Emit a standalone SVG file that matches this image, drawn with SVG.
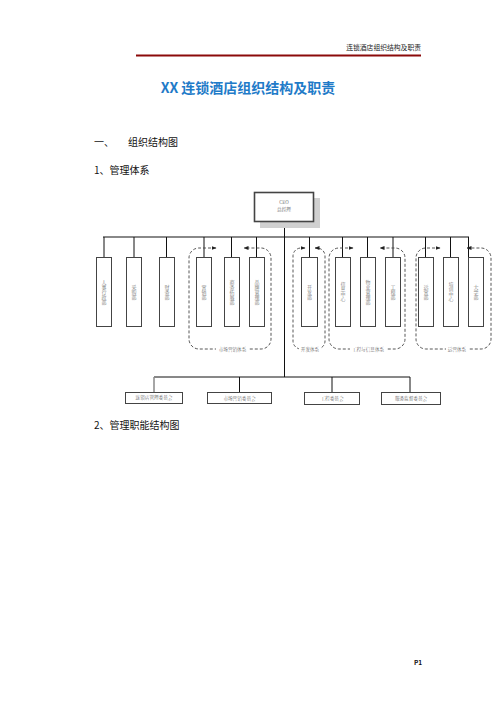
<svg xmlns="http://www.w3.org/2000/svg" width="496" height="702" viewBox="0 0 496 702">
<defs>
<marker id="ah" viewBox="0 0 10 10" refX="9" refY="5" markerWidth="5" markerHeight="5" orient="auto-start-reverse" markerUnits="userSpaceOnUse">
<path d="M0,1 L10,5 L0,9 z" fill="#222"/>
</marker>
<style>
text{font-family:"Noto Sans CJK SC","Liberation Sans",sans-serif}
.hd{font-size:10px;fill:#111}
.box{fill:#fff;stroke:#444;stroke-width:1}
.vt{font-size:5px;fill:#777;writing-mode:vertical-rl;text-orientation:upright;text-anchor:middle;font-family:"Noto Serif CJK SC","Noto Sans CJK SC",serif}
.sm{font-size:4.6px;fill:#666;text-anchor:middle;font-family:"Noto Serif CJK SC","Noto Sans CJK SC",serif}
.ln{stroke:#111;stroke-width:1;fill:none}
.grp{fill:none;stroke:#444;stroke-width:0.9;stroke-dasharray:3,2}
</style>
</defs>
<rect width="496" height="702" fill="#fff"/>
<g id="header">
<text x="421" y="50" font-size="6.8" fill="#222" text-anchor="end">连锁酒店组织结构及职责</text>
<line x1="136" y1="55.5" x2="421" y2="55.5" stroke="#8b0a0a" stroke-width="2.2"/>
</g>
<text x="248" y="93" font-size="14" font-weight="bold" fill="#1f7bc8" text-anchor="middle">XX 连锁酒店组织结构及职责</text>
<text class="hd" x="94" y="145.5">一、</text>
<text class="hd" x="128" y="145.5">组织结构图</text>
<text class="hd" x="94" y="173.5">1、管理体系</text>
<text class="hd" x="94" y="428.5">2、管理职能结构图</text>
<g id="connectors">
<line x1="103" y1="237" x2="469" y2="237" stroke="#888" stroke-width="2"/>
<line class="ln" x1="284.5" y1="222" x2="284.5" y2="377"/>
<line class="ln" x1="104" y1="237" x2="104" y2="257"/>
<line class="ln" x1="134" y1="237" x2="134" y2="257"/>
<line class="ln" x1="166.5" y1="237" x2="166.5" y2="257"/>
<line class="ln" x1="204" y1="237" x2="204" y2="257"/>
<line class="ln" x1="231.5" y1="237" x2="231.5" y2="257"/>
<line class="ln" x1="256.5" y1="237" x2="256.5" y2="257"/>
<line class="ln" x1="309.5" y1="237" x2="309.5" y2="257"/>
<line class="ln" x1="342.5" y1="237" x2="342.5" y2="257"/>
<line class="ln" x1="367.5" y1="237" x2="367.5" y2="257"/>
<line class="ln" x1="393" y1="237" x2="393" y2="257"/>
<line class="ln" x1="425.5" y1="237" x2="425.5" y2="257"/>
<line class="ln" x1="450.5" y1="237" x2="450.5" y2="257"/>
<line class="ln" x1="468.5" y1="237" x2="468.5" y2="257"/>
<line class="ln" x1="154" y1="377" x2="410" y2="377"/>
<line x1="154" y1="377" x2="154" y2="392" stroke="#888" stroke-width="1.5"/>
<line class="ln" x1="239.5" y1="377" x2="239.5" y2="392"/>
<line class="ln" x1="332" y1="377" x2="332" y2="392"/>
<line class="ln" x1="410" y1="377" x2="410" y2="392"/>
</g>
<g id="ceo">
<rect x="260" y="198" width="60" height="30" fill="#d0d0d0"/>
<rect x="254.5" y="192.5" width="59" height="29" fill="#fff" stroke="#444" stroke-width="1.6"/>
<text class="sm" x="284" y="204">CEO</text>
<text class="sm" x="284" y="211">总经理</text>
</g>
<g id="groups">
<path class="grp" d="M216,248 H199 A10,10 0 0 0 189,258 V339 A10,10 0 0 0 199,349 H261 A10,10 0 0 0 271,339 V258 A10,10 0 0 0 261,248 H244" marker-start="url(#ah)" marker-end="url(#ah)"/>
<path class="grp" d="M305,248 H301 A8,8 0 0 0 293,256 V341 A8,8 0 0 0 301,349 H317 A8,8 0 0 0 325,341 V256 A8,8 0 0 0 317,248 H315" marker-start="url(#ah)" marker-end="url(#ah)"/>
<path class="grp" d="M353,248 H339 A10,10 0 0 0 329,258 V339 A10,10 0 0 0 339,349 H395 A10,10 0 0 0 405,339 V258 A10,10 0 0 0 395,248 H380" marker-start="url(#ah)" marker-end="url(#ah)"/>
<path class="grp" d="M440,248 H426 A10,10 0 0 0 416,258 V339 A10,10 0 0 0 426,349 H481 A10,10 0 0 0 491,339 V258 A10,10 0 0 0 481,248 H467" marker-start="url(#ah)" marker-end="url(#ah)"/>
<rect x="216" y="346" width="33" height="6" fill="#fff"/>
<text class="sm" x="232.5" y="351">市场营销体系</text>
<rect x="299" y="346" width="22" height="6" fill="#fff"/>
<text class="sm" x="310" y="351">开发体系</text>
<rect x="350" y="346" width="37" height="6" fill="#fff"/>
<text class="sm" x="368" y="351">工程与信息体系</text>
<rect x="446" y="346" width="22" height="6" fill="#fff"/>
<text class="sm" x="457" y="351">运营体系</text>
</g>
<g id="n1"><rect class="box" x="96.5" y="257.5" width="15" height="69"/><text class="vt" x="104" y="292">人事行政部</text></g>
<g id="n2"><rect class="box" x="126.5" y="257.5" width="15" height="69"/><text class="vt" x="134" y="292">采购部</text></g>
<g id="n3"><rect class="box" x="159.5" y="257.5" width="15" height="69"/><text class="vt" x="167" y="292">财务部</text></g>
<g id="n4"><rect class="box" x="196.5" y="257.5" width="15" height="69"/><text class="vt" x="204" y="292">营销部</text></g>
<g id="n5"><rect class="box" x="224.5" y="257.5" width="15" height="69"/><text class="vt" x="232" y="292">商务拓展部</text></g>
<g id="n6"><rect class="box" x="249.5" y="257.5" width="15" height="69"/><text class="vt" x="257" y="292">品牌管理部</text></g>
<g id="n7"><rect class="box" x="301.5" y="257.5" width="16" height="69"/><text class="vt" x="309.5" y="292">开发部</text></g>
<g id="n8"><rect class="box" x="335.5" y="257.5" width="15" height="69"/><text class="vt" x="343" y="292">信息中心</text></g>
<g id="n9"><rect class="box" x="360.5" y="257.5" width="15" height="69"/><text class="vt" x="368" y="292">物业管理部</text></g>
<g id="n10"><rect class="box" x="385.5" y="257.5" width="15" height="69"/><text class="vt" x="393" y="292">工程部</text></g>
<g id="n11"><rect class="box" x="418.5" y="257.5" width="15" height="69"/><text class="vt" x="426" y="292">运营部</text></g>
<g id="n12"><rect class="box" x="443.5" y="257.5" width="15" height="69"/><text class="vt" x="451" y="292">培训中心</text></g>
<g id="n13"><rect class="box" x="468.5" y="257.5" width="15" height="69"/><text class="vt" x="476" y="292">大学部</text></g>
<g id="c1"><rect class="box" x="125.5" y="392.5" width="57" height="11"/><text class="sm" x="154" y="399">连锁店管理委员会</text></g>
<g id="c2"><rect class="box" x="207.5" y="392.5" width="64" height="11" stroke="#888"/><text class="sm" x="239.5" y="399.5">市场营销委员会</text></g>
<g id="c3"><rect class="box" x="304.5" y="392.5" width="55" height="12"/><text class="sm" x="332" y="399.5">工程委员会</text></g>
<g id="c4"><rect class="box" x="381.5" y="392.5" width="59" height="12"/><text class="sm" x="411" y="399.5">服务监督委员会</text></g>
<text x="418" y="665" font-size="6.5" font-weight="bold" fill="#111" text-anchor="middle">P1</text>
</svg>
